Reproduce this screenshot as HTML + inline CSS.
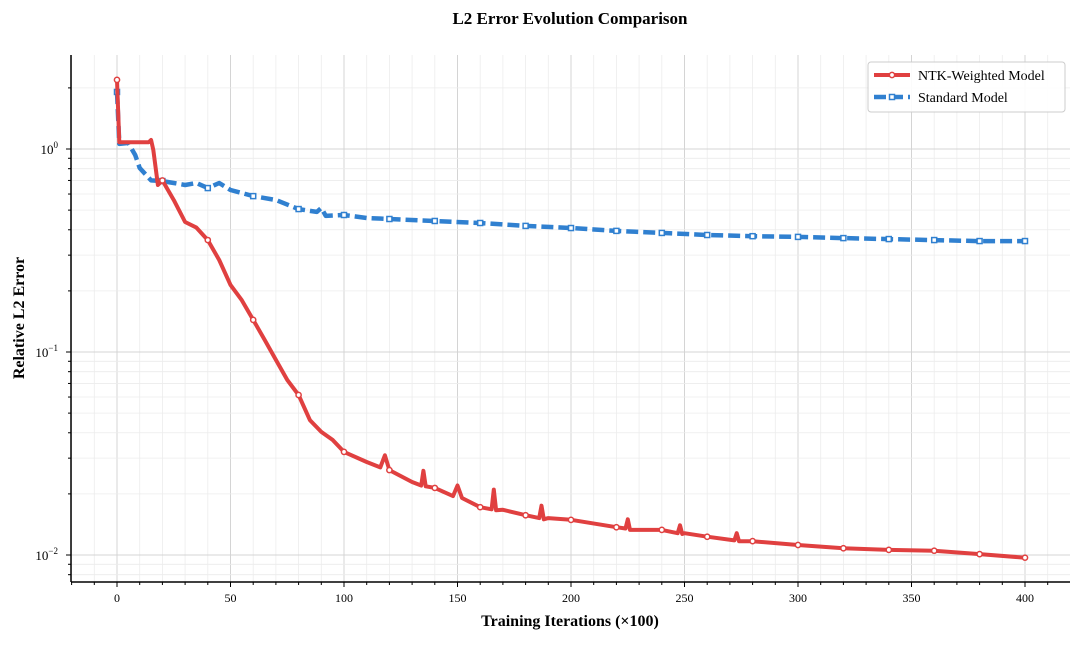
<!DOCTYPE html>
<html><head><meta charset="utf-8"><style>
body{margin:0;background:#fff}
svg text{font-family:"Liberation Serif",serif}
</style></head><body>
<svg id="c" width="1080" height="641" xmlns="http://www.w3.org/2000/svg"></svg>
<script>
const redX=[0,1,14,15,16,18,20,25,30,35,40,45,50,55,60,65,70,75,80,85,90,95,100,110,116,118,120,130,134,135,136,140,148,150,152,160,165,166,167,170,180,186,187,188,190,200,220,224,225,226,240,247,248,249,250,260,272,273,274,280,300,320,340,360,380,400];
const redY=[2.19,1.08,1.08,1.107,0.99,0.665,0.70,0.56,0.437,0.41,0.356,0.284,0.214,0.18,0.144,0.115,0.0914,0.0728,0.0614,0.0462,0.0404,0.0369,0.0322,0.0287,0.027,0.031,0.0262,0.0229,0.022,0.026,0.0218,0.0214,0.0195,0.022,0.0191,0.0172,0.0168,0.021,0.0166,0.0167,0.0157,0.0152,0.0175,0.015,0.0152,0.0149,0.0137,0.0135,0.015,0.0133,0.0133,0.0128,0.014,0.0127,0.0128,0.0123,0.0118,0.0128,0.0117,0.0117,0.0112,0.0108,0.0106,0.0105,0.0101,0.0097];
const blueX=[0,1,5,8,10,15,20,25,30,35,40,45,50,60,70,80,88,90,92,100,110,120,140,160,180,200,220,240,260,280,300,320,340,360,380,400];
const blueY=[1.91,1.06,1.07,0.934,0.806,0.70,0.695,0.68,0.665,0.68,0.642,0.68,0.628,0.586,0.561,0.506,0.49,0.512,0.468,0.473,0.457,0.452,0.442,0.432,0.418,0.408,0.395,0.386,0.377,0.372,0.369,0.364,0.36,0.356,0.352,0.352];
const xTicks=[0,50,100,150,200,250,300,350,400];
const yTicks=[0,-1,-2];
const markerStep=20;

const svg=document.getElementById('c');const NS="http://www.w3.org/2000/svg";
function el(t,a,p){const e=document.createElementNS(NS,t);for(const k in a)e.setAttribute(k,a[k]);(p||svg).appendChild(e);return e;}
const L=71,R=1070,T=55,B=582;
const sx=v=>117+v*2.27;
const sy=v=>149-Math.log10(v)*203;
const g=el('g',{});

for(let x=-20;x<=420;x+=10){const px=sx(x);if(px<L||px>R)continue;const maj=x%50===0;
 el('line',{x1:px,x2:px,y1:T,y2:B,stroke:maj?'#d4d4d4':'#ececec','stroke-width':maj?1:0.8},g);
 el('line',{x1:px,x2:px,y1:B,y2:B+(maj?5:3),stroke:'#000','stroke-width':1});}
for(let d=-3;d<=0;d++)for(let m=1;m<10;m++){const v=m*Math.pow(10,d);const py=sy(v);if(py<T||py>B)continue;
 el('line',{x1:L,x2:R,y1:py,y2:py,stroke:m===1?'#d4d4d4':'#ececec','stroke-width':m===1?1:0.8},g);
 el('line',{x1:L-(m===1?5:3),x2:L,y1:py,y2:py,stroke:'#000','stroke-width':1});}
el('line',{x1:L,x2:L,y1:T,y2:B,stroke:'#000','stroke-width':1.5});
el('line',{x1:L,x2:R,y1:B,y2:B,stroke:'#000','stroke-width':1.5});
xTicks.forEach(v=>{const t=el('text',{x:sx(v),y:602,'text-anchor':'middle','font-size':12});t.textContent=v;
 });
yTicks.forEach(e=>{const t=el('text',{x:58,y:sy(Math.pow(10,e))+5,'text-anchor':'end','font-size':13});
 t.innerHTML='10<tspan dy="-6" font-size="9">'+(e<0?'\u2212'+(-e):e)+'</tspan>';
 });
function series(xs,ys,color,dash,name,mk){
 const p=xs.map((x,i)=>(i?'L':'M')+sx(x).toFixed(1)+','+sy(ys[i]).toFixed(1)).join('');
 const e=el('path',{d:p,fill:'none',stroke:color,'stroke-width':dash?4.5:4,'stroke-dasharray':dash||'none','stroke-linejoin':'round'});
 
 xs.forEach((x,i)=>{if(x%markerStep!==0)return;const px=sx(x),py=sy(ys[i]);
  const m=mk==='c'?el('circle',{cx:px,cy:py,r:2.6,fill:'#fff',stroke:color,'stroke-width':1.5}):el('rect',{x:px-2.5,y:py-2.5,width:5,height:5,fill:'#fff',stroke:color,'stroke-width':1.5});
  });
}
series(blueX,blueY,'#3080d0','12,5','standard-model-line','s');
series(redX,redY,'#e04040',null,'ntk-weighted-line','c');
</script>
<svg width="1080" height="641" style="position:absolute;left:0;top:0" xmlns="http://www.w3.org/2000/svg">
<text x="570" y="24" text-anchor="middle" font-size="17" font-weight="bold" font-family="Liberation Serif,serif">L2 Error Evolution Comparison</text>
<text x="570" y="626" text-anchor="middle" font-size="16" font-weight="bold" font-family="Liberation Serif,serif">Training Iterations (×100)</text>
<text x="0" y="0" transform="translate(24,318) rotate(-90)" text-anchor="middle" font-size="16" font-weight="bold" font-family="Liberation Serif,serif">Relative L2 Error</text>
<g>
<rect x="868" y="62" width="197" height="50" rx="3" fill="#fff" fill-opacity="0.9" stroke="#ccc"/>
<line x1="874" y1="75" x2="910" y2="75" stroke="#e04040" stroke-width="4"/>
<circle cx="892" cy="75" r="2.6" fill="#fff" stroke="#e04040" stroke-width="1.5"/>
<text x="918" y="80" font-size="14" font-family="Liberation Serif,serif">NTK-Weighted Model</text>
<line x1="874" y1="97" x2="910" y2="97" stroke="#3080d0" stroke-width="4.5" stroke-dasharray="12,5"/>
<rect x="889.5" y="94.5" width="5" height="5" fill="#fff" stroke="#3080d0" stroke-width="1.5"/>
<text x="918" y="102" font-size="14" font-family="Liberation Serif,serif">Standard Model</text>
</g>
</svg>
</body></html>
